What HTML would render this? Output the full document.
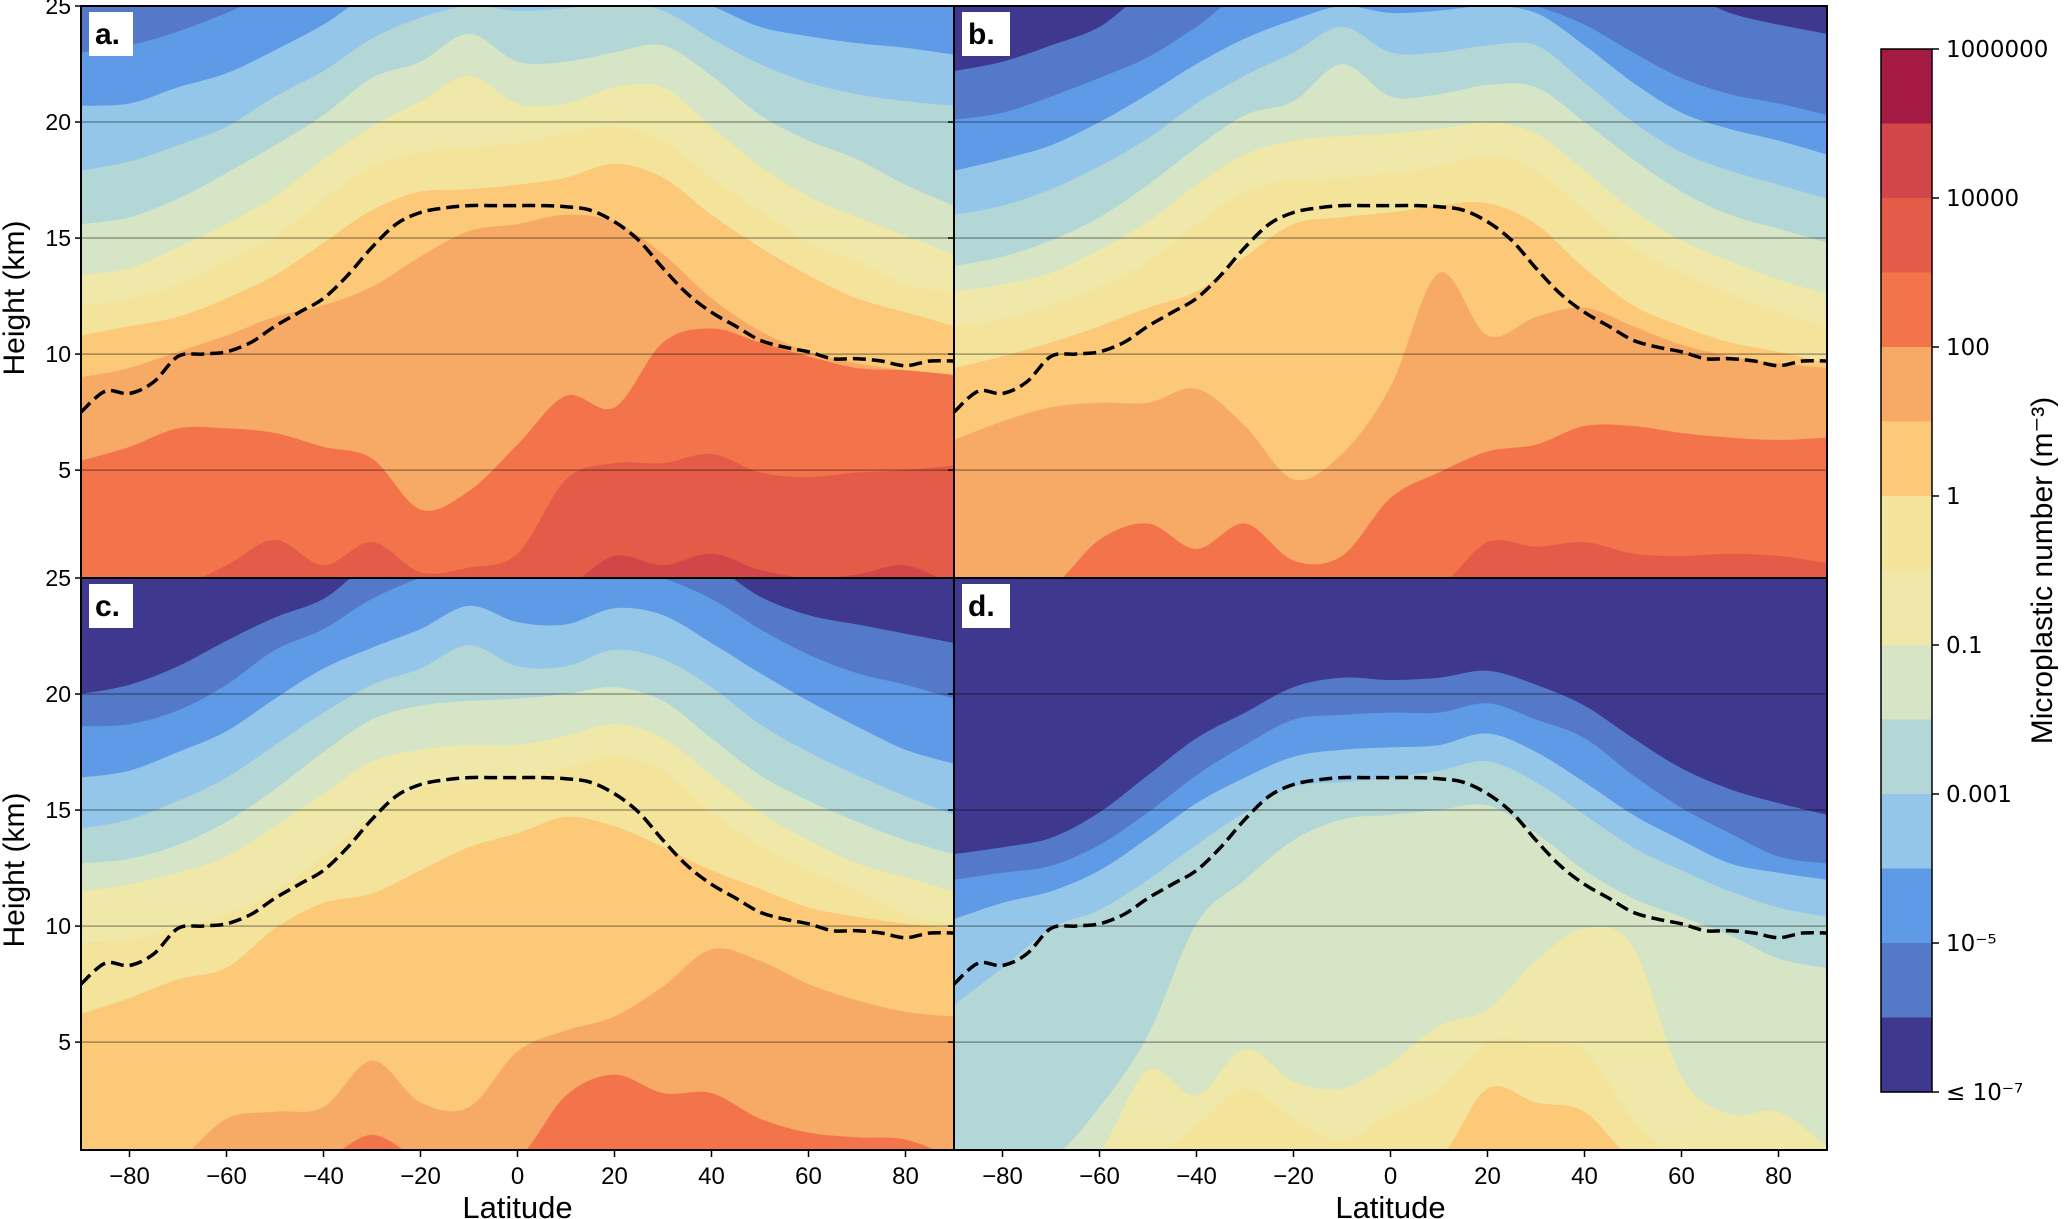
<!DOCTYPE html>
<html><head><meta charset="utf-8">
<style>
html,body{margin:0;padding:0;background:#fff;}
svg{display:block;font-family:"Liberation Sans","DejaVu Sans",sans-serif;}
</style></head>
<body>
<svg id="fig" width="2067" height="1219" viewBox="0 0 2067 1219" xmlns="http://www.w3.org/2000/svg">
<defs>
<clipPath id="clipA"><rect x="81" y="6" width="873" height="572"/></clipPath>
<clipPath id="clipB"><rect x="954" y="6" width="873" height="572"/></clipPath>
<clipPath id="clipC"><rect x="81" y="578" width="873" height="572"/></clipPath>
<clipPath id="clipD"><rect x="954" y="578" width="873" height="572"/></clipPath>
</defs>
<g id="layer"></g>
</svg>
<script>
// ---- data ----
const lats = [-90,-80,-70,-60,-50,-40,-30,-20,-10,0,10,20,30,40,50,60,70,80,90];
const levelColors = ['#a51a42','#d24649','#e45c47','#f3744a','#f7aa65','#fbc977','#f4e39b','#efe8a8','#d6e5c5','#b3d6d6','#93c6e8','#5e9ae6','#5479c8','#3e388f'];
const cbarTicks = ['1000000','10000','100','1','0.1','0.001','10\u207B\u2075','\u2264 10\u207B\u2077'];
const xTicks = [-80,-60,-40,-20,0,20,40,60,80];
const yTicks = [5,10,15,20,25];

// panel a (top band index 12)
const a12_11 = [23.0,23.3,23.9,24.7,26,26,26,26,26,26,26,26,26,26,26,26,26,26,26];
const a11_10 = [20.7,20.8,21.5,22.1,23.1,24.2,25.5,26,26,26,26,26,26,25.0,24.1,23.7,23.4,23.2,22.9];
const a10_9 = [17.9,18.3,19.0,19.8,21.1,22.2,23.6,24.5,25.0,24.8,24.9,25.2,24.8,23.6,22.5,21.7,21.2,20.9,20.7];
const a9_8 = [15.6,15.9,16.7,17.8,19.0,20.3,21.9,22.6,23.8,22.6,22.6,23.0,23.3,22.0,20.3,19.2,18.4,17.3,16.4];
const a8_7 = [13.4,13.7,14.6,15.6,16.8,18.4,19.8,20.9,22.0,20.8,20.8,21.5,21.5,19.8,18.1,16.8,15.9,15.1,14.3];
const a7_6 = [12.1,12.4,13.0,14.0,15.1,16.7,18.1,18.7,18.9,19.1,19.5,19.8,19.2,17.6,16.2,14.8,14.0,13.0,12.7];
const a6_5 = [10.8,11.2,11.6,12.4,13.4,14.8,16.2,17.0,17.1,17.3,17.6,18.2,17.6,16.0,14.6,13.4,12.4,11.8,11.2];
const a5_4 = [9.0,9.4,10.1,10.8,11.6,12.1,12.9,14.2,15.3,15.6,16.0,15.7,14.3,12.4,11.0,10.1,9.6,9.3,9.1];
const a4_3 = [5.4,6.0,6.8,6.8,6.6,6.0,5.5,3.3,4.1,6.1,8.2,7.7,10.5,11.1,10.5,9.9,9.4,9.3,9.1];
const a3_2 = [0,0,0,0.9,2.0,0.9,1.9,0.6,0.8,1.4,4.6,5.3,5.3,5.7,4.9,4.7,4.9,5.0,5.2];
const a2_1 = [0,0,0,0,0,0,0,0,0,0,0,1.3,0.9,1.4,0.7,0.35,0.5,0.9,0];

// panel b (top band 13)
const b13_12 = [22.2,22.6,23.3,24.1,26,26,26,26,26,26,26,26,26,26,26,26,24.7,24.2,23.8];
const b12_11 = [20.1,20.4,21.1,21.9,22.8,24.1,26,26,26,26,26,26,25.0,24.2,23.0,21.9,21.2,20.8,20.3];
const b11_10 = [17.9,18.4,19.0,20.0,21.2,22.5,23.6,24.4,25.0,24.7,24.8,25.0,24.7,23.3,21.7,20.4,19.7,19.2,18.6];
const b10_9 = [16.0,16.4,17.1,18.1,19.3,20.8,22.0,23.0,24.1,23.0,23.0,23.3,23.3,21.7,20.0,18.7,17.9,17.3,16.7];
const b9_8 = [13.8,14.2,14.9,15.9,17.3,18.9,20.3,20.9,22.5,21.1,21.2,21.6,21.5,20.0,18.4,17.0,16.0,15.4,14.8];
const b8_7 = [12.7,13.0,13.5,14.5,15.7,17.3,18.6,19.2,19.4,19.5,19.7,20.0,19.5,17.9,16.2,14.9,14.0,13.2,12.6];
const b7_6 = [11.2,11.5,12.1,12.9,14.0,15.6,17.0,17.5,17.6,17.8,18.1,18.6,17.9,16.2,14.6,13.5,12.6,11.8,11.2];
const b6_5 = [9.4,9.9,10.5,11.2,12.0,12.7,14.2,15.6,15.9,16.1,16.4,16.5,15.6,13.7,12.1,11.2,10.5,10.1,9.6];
const b5_4 = [6.3,7.1,7.7,7.9,7.9,8.5,6.9,4.6,5.7,8.6,13.5,10.8,11.6,12.0,11.2,10.4,9.9,9.6,9.4];
const b4_3 = [0,0,0,2.0,2.7,1.6,2.7,1.1,1.3,3.8,4.9,5.8,6.1,6.9,6.9,6.6,6.4,6.3,6.4];
const b3_2 = [0,0,0,0,0,0,0,0,0,0,0,1.9,1.7,1.9,1.4,1.3,1.4,1.3,1.0];

// panel c (top band 13)
const c13_12 = [20.0,20.4,21.2,22.3,23.3,24.1,26,26,26,26,26,26,26,25.5,24.2,23.4,23.0,22.6,22.2];
const c12_11 = [18.6,18.7,19.3,20.4,21.9,22.8,24.1,25.0,26,26,26,26,25.0,24.1,22.8,21.7,20.9,20.4,19.8];
const c11_10 = [16.4,16.7,17.5,18.4,19.8,21.1,22.0,22.8,23.8,23.1,23.0,23.7,23.4,22.2,20.9,19.7,18.6,17.6,17.0];
const c10_9 = [14.2,14.6,15.4,16.4,17.8,19.2,20.4,21.1,22.1,21.2,21.2,21.9,21.5,20.3,18.7,17.5,16.5,15.6,14.8];
const c9_8 = [12.7,12.9,13.5,14.5,15.9,17.5,18.9,19.5,19.7,19.8,20.0,20.3,19.7,18.1,16.5,15.4,14.5,13.7,13.1];
const c8_7 = [11.5,11.8,12.3,13.0,14.3,15.7,17.1,17.6,17.8,17.8,18.2,18.7,18.1,16.5,14.9,13.7,12.7,12.1,11.5];
const c7_6 = [9.3,9.4,9.9,10.5,11.5,13.0,14.8,15.9,16.2,16.4,16.8,17.3,16.7,14.9,13.5,12.4,11.5,10.5,10.1];
const c6_5 = [6.2,6.9,7.7,8.2,9.9,11.0,11.4,12.4,13.4,14.0,14.7,14.3,13.4,12.4,11.6,10.8,10.4,10.1,9.9];
const c5_4 = [0,0,0,1.7,2.0,2.2,4.2,2.4,2.2,4.6,5.5,6.1,7.4,9.0,8.5,7.5,6.8,6.3,6.1];
const c4_3 = [0,0,0,0,0.3,0,1.0,0,0,0,2.7,3.6,2.8,2.8,1.7,1.1,0.9,0.8,0];

// panel d (top band 13)
const d13_12 = [13.1,13.4,13.8,14.9,16.5,18.1,19.2,20.3,20.7,20.6,20.7,21.0,20.4,19.5,18.1,16.8,15.9,15.3,14.8];
const d12_11 = [12.0,12.3,12.6,13.5,14.9,16.5,17.8,18.9,19.1,19.2,19.2,19.6,18.9,18.1,16.5,15.1,14.0,13.0,12.7];
const d11_10 = [10.3,11.0,11.5,12.4,13.8,15.3,16.4,17.3,17.6,17.7,17.8,18.3,17.5,16.2,14.8,13.7,12.7,12.3,12.0];
const d10_9 = [6.6,8.2,9.9,10.7,12.0,13.5,14.9,16.0,16.2,16.4,16.7,17.1,16.2,14.8,13.4,12.4,11.5,10.8,10.4];
const d9_8 = [0,0,0,2.2,5.3,10.1,12.0,13.7,14.6,14.8,15.0,15.2,14.0,12.4,11.2,10.4,9.6,8.6,8.2];
const d8_7 = [0,0,0,0.35,3.8,2.7,4.7,3.3,3.0,4.1,5.7,6.4,8.5,9.9,9.1,3.5,1.9,2.0,0.5];
const d7_6 = [0,0,0,0,0,1.4,3.0,1.7,0.8,1.9,3.0,5.0,5.0,4.6,1.7,0,0,0,0];
const d6_5 = [0,0,0,0,0,0,0,0,0,0,0,3.0,2.4,2.0,0,0,0,0,0];

// tropopause
const tropLats = [-90,-85,-80,-75,-70,-65,-60,-55,-50,-45,-40,-35,-30,-25,-20,-15,-10,-5,0,5,10,15,20,25,30,35,40,45,50,55,60,65,70,75,80,85,90];
const tropHeight = [7.5,8.4,8.3,8.8,9.9,10.0,10.1,10.5,11.2,11.8,12.4,13.4,14.6,15.6,16.1,16.3,16.4,16.4,16.4,16.4,16.35,16.2,15.7,14.9,13.7,12.6,11.8,11.2,10.6,10.3,10.1,9.8,9.8,9.7,9.5,9.7,9.7];

// ---- drawing ----
const NS = 'http://www.w3.org/2000/svg';
const layer = document.getElementById('layer');
const PW = 873, PH = 572, YMIN = 0.35, YMAX = 25;
function xS(lat, x0){ return x0 + (lat + 90) / 180 * PW; }
function yS(km, y0){ return y0 + (YMAX - km) / (YMAX - YMIN) * PH; }
function mk(tag, attrs, parent){
  const e = document.createElementNS(NS, tag);
  for (const k in attrs) e.setAttribute(k, attrs[k]);
  (parent || layer).appendChild(e);
  return e;
}
// Catmull-Rom smooth path through points (continuing from current point pts[0])
function smooth(pts){
  let d = '';
  for (let i = 0; i < pts.length - 1; i++) {
    const p0 = pts[Math.max(0,i-1)], p1 = pts[i], p2 = pts[i+1], p3 = pts[Math.min(pts.length-1,i+2)];
    const c1x = p1[0] + (p2[0]-p0[0])/6, c1y = p1[1] + (p2[1]-p0[1])/6;
    const c2x = p2[0] - (p3[0]-p1[0])/6, c2y = p2[1] - (p3[1]-p1[1])/6;
    d += ' C' + c1x.toFixed(1)+','+c1y.toFixed(1)+' '+c2x.toFixed(1)+','+c2y.toFixed(1)+' '+p2[0].toFixed(1)+','+p2[1].toFixed(1);
  }
  return d;
}

const panels = [
  {id:'a', x0:81, y0:6, clip:'clipA', top:12, bounds:[a12_11,a11_10,a10_9,a9_8,a8_7,a7_6,a6_5,a5_4,a4_3,a3_2,a2_1]},
  {id:'b', x0:954, y0:6, clip:'clipB', top:13, bounds:[b13_12,b12_11,b11_10,b10_9,b9_8,b8_7,b7_6,b6_5,b5_4,b4_3,b3_2]},
  {id:'c', x0:81, y0:578, clip:'clipC', top:13, bounds:[c13_12,c12_11,c11_10,c10_9,c9_8,c8_7,c7_6,c6_5,c5_4,c4_3]},
  {id:'d', x0:954, y0:578, clip:'clipD', top:13, bounds:[d13_12,d12_11,d11_10,d10_9,d9_8,d8_7,d7_6,d6_5]}
];

panels.forEach(p => {
  const g = mk('g', {'clip-path':'url(#'+p.clip+')'});
  
  
  const bg = mk('rect', {x:p.x0, y:p.y0, width:PW, height:PH, fill:levelColors[p.top]}, g);
  
  
  p.bounds.forEach((arr, i) => {
    const bandIdx = p.top - 1 - i;
    const pts = arr.map((v, j) => [xS(lats[j], p.x0), yS(Math.max(0, Math.min(v, 25.6)), p.y0)]);
    let d = 'M' + pts[0][0] + ',' + (p.y0 + PH + 5) + ' L' + pts[0][0].toFixed(1) + ',' + pts[0][1].toFixed(1);
    d += smooth(pts);
    d += ' L' + pts[pts.length-1][0] + ',' + (p.y0 + PH + 5) + ' Z';
    const path = mk('path', {d:d, fill:levelColors[bandIdx]}, g);
    
    
  });
  [5,10,15,20].forEach(t => {
    const ln = mk('line', {x1:p.x0, x2:p.x0+PW, y1:yS(t,p.y0), y2:yS(t,p.y0), stroke:'rgba(0,0,0,0.35)', 'stroke-width':1.5}, g);
    
    
  });
  const tpts = tropHeight.map((h, j) => [xS(tropLats[j], p.x0), yS(h, p.y0)]);
  const td = 'M' + tpts[0][0].toFixed(1) + ',' + tpts[0][1].toFixed(1) + smooth(tpts);
  const tp = mk('path', {d:td, fill:'none', stroke:'#000', 'stroke-width':3.5, 'stroke-dasharray':'13 6'}, g);
  
  
  const fr = mk('rect', {x:p.x0, y:p.y0, width:PW, height:PH, fill:'none', stroke:'#000', 'stroke-width':2});
  
  
  const lb = mk('rect', {x:p.x0+8, y:p.y0+6, width:p.id==='b'||p.id==='d'?48:44, height:44, fill:'#fff'});
  
  
  const lt = mk('text', {x:p.x0+14, y:p.y0+38, 'font-size':30, 'font-weight':'bold', fill:'#000'});
  lt.textContent = p.id + '.';
  
  
  yTicks.forEach(t => {
    const tk = mk('line', {x1:p.x0-6, x2:p.x0, y1:yS(t,p.y0), y2:yS(t,p.y0), stroke:'#000', 'stroke-width':1.5});
    
    
    if (p.x0 === 81) {
      const tl = mk('text', {x:p.x0-10, y:yS(t,p.y0)+8, 'font-size':23, 'text-anchor':'end', fill:'#000'});
      tl.textContent = String(t);
      
      
    }
  });
  if (p.y0 === 578) {
    xTicks.forEach(t => {
      const tk = mk('line', {x1:xS(t,p.x0), x2:xS(t,p.x0), y1:p.y0+PH, y2:p.y0+PH+7, stroke:'#000', 'stroke-width':1.5});
      
      
      const tl = mk('text', {x:xS(t,p.x0), y:p.y0+PH+34, 'font-size':24, 'text-anchor':'middle', fill:'#000'});
      tl.textContent = t < 0 ? '\u2212' + Math.abs(t) : String(t);
      
      
    });
    const xt = mk('text', {x:p.x0+PW/2, y:1218, 'font-size':31, 'text-anchor':'middle', fill:'#000'});
    xt.textContent = 'Latitude';
    
    
  }
  if (p.x0 === 81) {
    const yt = mk('text', {x:0, y:0, 'font-size':30, 'text-anchor':'middle', fill:'#000', transform:'translate(24,'+(p.y0+PH/2+6)+') rotate(-90)'});
    yt.textContent = 'Height (km)';
    
    
  }
});

// colorbar
const CB = {x:1881, y:49, w:51, h:1043};
const nb = levelColors.length;
const cbg = mk('g', {});


levelColors.forEach((c, i) => {
  const h = CB.h / nb;
  const r = mk('rect', {x:CB.x, y:(CB.y + i*h).toFixed(2), width:CB.w, height:(h+0.6).toFixed(2), fill:c}, cbg);
  
  
});
const cbf = mk('rect', {x:CB.x, y:CB.y, width:CB.w, height:CB.h, fill:'none', stroke:'#000', 'stroke-width':1.5}, cbg);


cbarTicks.forEach((t, i) => {
  const y = CB.y + i * CB.h / (cbarTicks.length - 1);
  const tk = mk('line', {x1:CB.x+CB.w, x2:CB.x+CB.w+7, y1:y, y2:y, stroke:'#000', 'stroke-width':1.5}, cbg);
  
  
  const tl = mk('text', {x:CB.x+CB.w+14, y:y+8, 'font-size':23, fill:'#000', 'font-family':'DejaVu Sans, sans-serif'}, cbg);
  tl.textContent = t;
  
  
});
const ct = mk('text', {x:0, y:0, 'font-size':30, 'text-anchor':'middle', fill:'#000', transform:'translate(2052,'+(CB.y+CB.h/2)+') rotate(-90)'}, cbg);
ct.textContent = 'Microplastic number (m\u207B\u00B3)';


</script>
</body></html>
